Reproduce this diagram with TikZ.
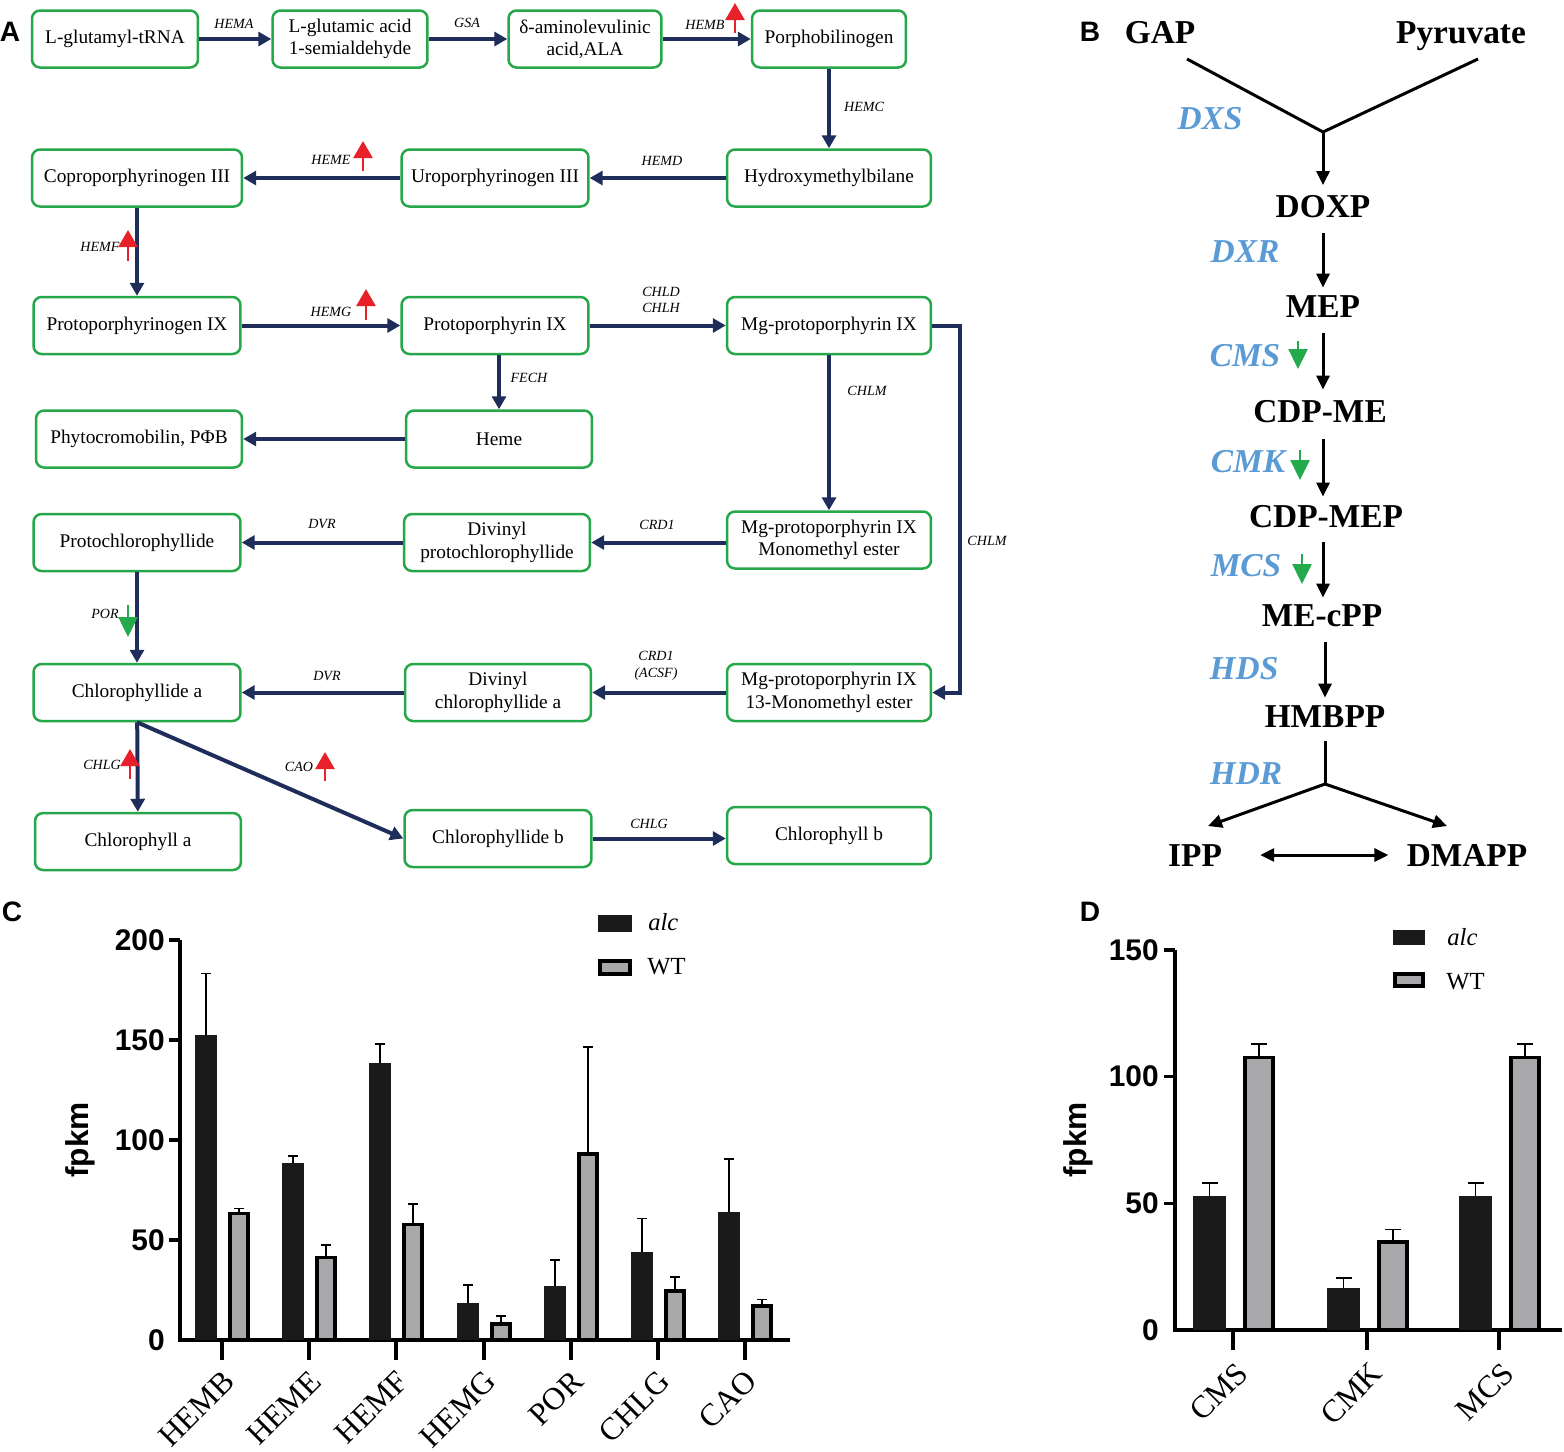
\documentclass[tikz,border=0pt]{standalone}
\usepackage{fontspec}
\setmainfont{Liberation Serif}
\newfontfamily\arialfont{Liberation Sans}
\usetikzlibrary{arrows.meta}

\definecolor{boxgreen}{RGB}{38,168,74}
\definecolor{pathnavy}{RGB}{30,45,90}
\definecolor{upred}{RGB}{232,32,42}
\definecolor{downgreen}{RGB}{34,170,76}
\definecolor{enzblue}{RGB}{91,155,213}
\definecolor{wtgray}{RGB}{168,168,170}
\definecolor{alcblack}{RGB}{26,26,26}

\tikzset{
  box/.style={draw=boxgreen, line width=0.05cm, rounded corners=0.16cm, minimum height=1.14cm,
    align=center, inner sep=1pt, font=\fontsize{11}{12.8}\selectfont},
  enz/.style={font=\fontsize{8}{9.5}\selectfont\itshape, inner sep=0pt, align=center},
  flow/.style={draw=pathnavy, line width=0.08cm, -{Triangle[length=0.26cm,width=0.28cm]}},
  upreg/.style={draw=upred, line width=0.05cm, -{Triangle[length=0.34cm,width=0.38cm]}},
  downreg/.style={draw=downgreen, line width=0.05cm, -{Triangle[length=0.4cm,width=0.38cm]}},
  panel/.style={font=\fontsize{16}{19}\selectfont\arialfont\bfseries, inner sep=0pt},
  metab/.style={font=\fontsize{19}{22}\selectfont\bfseries, inner sep=0pt, text height=12.6pt, text depth=0pt},
  benz/.style={font=\fontsize{19}{22}\selectfont\bfseries\itshape, text=enzblue, inner sep=0pt,
    text height=12.6pt, text depth=0pt},
  bline/.style={line width=0.06cm},
  barrow/.style={line width=0.06cm, -{Triangle[length=0.28cm,width=0.26cm]}},
  axisline/.style={line width=0.07cm},
  alcbar/.style={fill=alcblack},
  wtbar/.style={draw=black, line width=0.07cm, fill=wtgray},
  errbar/.style={line width=0.035cm},
  ticklab/.style={font=\fontsize{17}{20}\selectfont\arialfont\bfseries, anchor=east, inner sep=0pt},
  catlab/.style={font=\fontsize{18}{21}\selectfont, rotate=45, anchor=east, inner sep=0pt},
  leglab/.style={font=\fontsize{14}{17}\selectfont, anchor=west, inner sep=0pt},
  ylab/.style={font=\fontsize{18}{21}\selectfont\arialfont\bfseries, rotate=90, inner sep=0pt}
}

\begin{document}
\begin{tikzpicture}[x=0.02cm, y=-0.02cm]
\useasboundingbox (0,0) rectangle (1564,1451);

% panel A
\node[panel] (pA) at (10,32) {A};
\node[box, minimum width=3.32cm] (trna) at (115,39) {L-glutamyl-tRNA};
\node[box, minimum width=3.10cm] (gsa) at (350,39) {L-glutamic acid\\1-semialdehyde};
\node[box, minimum width=3.06cm] (ala) at (585,39) {δ-aminolevulinic\\acid,ALA};
\node[box, minimum width=3.08cm] (pbg) at (829,39) {Porphobilinogen};
\node[box, minimum width=4.20cm] (copro) at (137,178) {Coproporphyrinogen III};
\node[box, minimum width=3.74cm] (uro) at (495,178) {Uroporphyrinogen III};
\node[box, minimum width=4.08cm] (hmb) at (829,178) {Hydroxymethylbilane};
\node[box, minimum width=4.14cm] (protogen) at (137,325.5) {Protoporphyrinogen IX};
\node[box, minimum width=3.74cm] (protoix) at (495,325.5) {Protoporphyrin IX};
\node[box, minimum width=4.08cm] (mgp) at (829,325.5) {Mg-protoporphyrin IX};
\node[box, minimum width=4.12cm] (pfb) at (139,439) {Phytocromobilin, PΦB};
\node[box, minimum width=3.72cm] (heme) at (499,439) {Heme};
\node[box, minimum width=4.14cm] (pchlide) at (137,542.5) {Protochlorophyllide};
\node[box, minimum width=3.72cm] (dvpchlide) at (497,542.5) {Divinyl\\protochlorophyllide};
\node[box, minimum width=4.08cm] (mgme) at (829,540) {Mg-protoporphyrin IX\\Monomethyl ester};
\node[box, minimum width=4.14cm] (chlidea) at (137,692.5) {Chlorophyllide a};
\node[box, minimum width=3.72cm] (dvchlidea) at (498,692.5) {Divinyl\\chlorophyllide a};
\node[box, minimum width=4.08cm] (mgme13) at (829,692.5) {Mg-protoporphyrin IX\\13-Monomethyl ester};
\node[box, minimum width=4.12cm] (chla) at (138,841.5) {Chlorophyll a};
\node[box, minimum width=3.74cm] (chlideb) at (498,838.5) {Chlorophyllide b};
\node[box, minimum width=4.08cm] (chlb) at (829,835.5) {Chlorophyll b};

\node[enz] (lhema) at (234,24) {HEMA};
\node[enz] (lgsa) at (467,23) {GSA};
\node[enz] (lhemb) at (705,25) {HEMB};
\node[enz] (lhemc) at (864,107) {HEMC};
\node[enz] (lhemd) at (662,161) {HEMD};
\node[enz] (lheme) at (331,160) {HEME};
\node[enz] (lhemf) at (100,247) {HEMF};
\node[enz] (lhemg) at (331,312) {HEMG};
\node[enz] (lchld) at (661,300) {CHLD\\CHLH};
\node[enz] (lfech) at (529,378) {FECH};
\node[enz] (lchlm) at (867,391) {CHLM};
\node[enz] (lchlmb) at (987,541) {CHLM};
\node[enz] (ldvr) at (322,524) {DVR};
\node[enz] (lcrd) at (657,525) {CRD1};
\node[enz] (lpor) at (105,614) {POR};
\node[enz] (lacsf) at (656,666) {CRD1\\(ACSF)};
\node[enz] (ldvrb) at (327,676) {DVR};
\node[enz] (lchlg) at (102,765) {CHLG};
\node[enz] (lcao) at (299,767) {CAO};
\node[enz] (lchlgb) at (649,824) {CHLG};

\draw[flow] (trna) -- (gsa);
\draw[flow] (gsa) -- (ala);
\draw[flow] (ala) -- (pbg);
\draw[flow] (pbg) -- (hmb);
\draw[flow] (hmb) -- (uro);
\draw[flow] (uro) -- (copro);
\draw[flow] (copro) -- (protogen);
\draw[flow] (protogen) -- (protoix);
\draw[flow] (protoix) -- (mgp);
\draw[flow] (protoix.south -| heme.north) -- (heme.north);
\draw[flow] (heme) -- (pfb);
\draw[flow] (mgp) -- (mgme);
\draw[flow] (mgp.east) -- ++(28,0) |- (mgme13.east);
\draw[flow] (mgme.west |- dvpchlide) -- (dvpchlide);
\draw[flow] (dvpchlide) -- (pchlide);
\draw[flow] (pchlide) -- (chlidea);
\draw[flow] (mgme13) -- (dvchlidea);
\draw[flow] (dvchlidea) -- (chlidea);
\draw[flow] (chlidea) -- (chla);
\draw[flow] (chlidea.south) -- (chlideb.west);
\draw[flow] (chlideb.east) -- (chlideb.east -| chlb.west);

% up / down regulated
\draw[upreg] (735,33) -- (735,3);
\draw[upreg] (363,171) -- (363,141);
\draw[upreg] (128,261) -- (128,230);
\draw[upreg] (366,320) -- (366,289);
\draw[upreg] (130,779) -- (130,749);
\draw[upreg] (325,781) -- (325,752);
\draw[downreg] (128,605) -- (128,637);

% panel B
\node[panel] (pB) at (1090,32) {B};
\node[metab] (gap) at (1160,32) {GAP};
\node[metab] (pyr) at (1461,32) {Pyruvate};
\node[metab] (doxp) at (1323,206.5) {DOXP};
\node[metab] (mep) at (1323,306) {MEP};
\node[metab] (cdpme) at (1320,411) {CDP-ME};
\node[metab] (cdpmep) at (1326,516) {CDP-MEP};
\node[metab] (mecpp) at (1322,615) {ME-cPP};
\node[metab] (hmbpp) at (1325,716) {HMBPP};
\node[metab] (ipp) at (1195,855) {IPP};
\node[metab] (dmapp) at (1467,855) {DMAPP};

\node[benz] (dxs) at (1210,118) {DXS};
\node[benz] (dxr) at (1245,251) {DXR};
\node[benz] (cms) at (1245,355) {CMS};
\node[benz] (cmk) at (1248,461) {CMK};
\node[benz] (mcs) at (1246,565) {MCS};
\node[benz] (hds) at (1244,668) {HDS};
\node[benz] (hdr) at (1246,773) {HDR};

\coordinate (gapend) at (1187,59);
\coordinate (pyrend) at (1478,59);
\coordinate (dxsjoin) at (1323,132);
\coordinate (hdrjoin) at (1325,784);
\coordinate (ipptip) at (1208,826);
\coordinate (dmapptip) at (1447,826);

\draw[bline] (gapend) -- (dxsjoin) -- (pyrend);
\draw[barrow, shorten >=0.2cm] (dxsjoin) -- (doxp.north);
\draw[barrow, shorten <=0.3cm, shorten >=0.14cm] (doxp.south) -- (doxp.south |- mep.north);
\draw[barrow, shorten <=0.32cm, shorten >=0.2cm] (mep.south) -- (mep.south |- cdpme.north);
\draw[barrow, shorten <=0.34cm, shorten >=0.16cm] (mep.south |- cdpme.south) -- (mep.south |- cdpmep.north);
\draw[barrow, shorten <=0.3cm, shorten >=0.12cm] (mep.south |- cdpmep.south) -- (mep.south |- mecpp.north);
\draw[barrow, shorten <=0.32cm, shorten >=0.14cm] (hmbpp.north |- mecpp.south) -- (hmbpp.north);
\draw[bline, shorten <=0.28cm] (hmbpp.south) -- (hdrjoin);
\draw[barrow] (hdrjoin) -- (ipptip);
\draw[barrow] (hdrjoin) -- (dmapptip);
\draw[barrow, {Triangle[length=0.28cm,width=0.26cm]}-{Triangle[length=0.28cm,width=0.26cm]},
  shorten <=0.76cm, shorten >=0.36cm] (ipp.east) -- (dmapp.west);

\draw[downreg] (1298,341) -- (1298,369);
\draw[downreg] (1300,450) -- (1300,480);
\draw[downreg] (1302,554) -- (1302,584);

% panel C
\node[panel] (pC) at (12,912) {C};
\node[ylab] (cy) at (80,1140) {fpkm};
\fill[alcbar] (598,915) rectangle (632,932);
\draw[wtbar] (600,961) rectangle (630,974);
\node[leglab] (calc) at (648,922) {\itshape alc};
\node[leglab] (cwt) at (647,967) {WT};
\begin{scope}[shift={(0,1340)}, y=0.04cm]
  \draw[axisline] (180,200) -- (180,0) -- (790,0);
  \draw[axisline] (169,200) -- (180,200) (169,150) -- (180,150) (169,100) -- (180,100)
    (169,50) -- (180,50);
  \draw[axisline] (222,0) -- (222,-10) (309,0) -- (309,-10) (396,0) -- (396,-10)
    (484,0) -- (484,-10) (571,0) -- (571,-10) (658,0) -- (658,-10) (745,0) -- (745,-10);
  \node[ticklab] (c200) at (165,200) {200};
  \node[ticklab] (c150) at (165,150) {150};
  \node[ticklab] (c100) at (165,100) {100};
  \node[ticklab] (c50) at (165,50) {50};
  \node[ticklab] (c0) at (165,0) {0};
  % alc
  \fill[alcbar] (195,0) rectangle (217,152.5);
  \fill[alcbar] (282,0) rectangle (304,88.4);
  \fill[alcbar] (369,0) rectangle (391,138.7);
  \fill[alcbar] (457,0) rectangle (479,18.5);
  \fill[alcbar] (544,0) rectangle (566,27.1);
  \fill[alcbar] (631,0) rectangle (653,44);
  \fill[alcbar] (718,0) rectangle (740,64);
  % WT
  \draw[wtbar] (230,0) rectangle (248,63.2);
  \draw[wtbar] (317,0) rectangle (335,41.4);
  \draw[wtbar] (404,0) rectangle (422,57.9);
  \draw[wtbar] (492,0) rectangle (510,8);
  \draw[wtbar] (579,0) rectangle (597,93);
  \draw[wtbar] (666,0) rectangle (684,24.5);
  \draw[wtbar] (753,0) rectangle (771,17);
  % error bars
  \draw[errbar] (206,152.5) -- (206,183.3) (201,183.3) -- (211,183.3);
  \draw[errbar] (293,88.4) -- (293,92) (288,92) -- (298,92);
  \draw[errbar] (380,138.7) -- (380,148) (375,148) -- (385,148);
  \draw[errbar] (468,18.5) -- (468,27.4) (463,27.4) -- (473,27.4);
  \draw[errbar] (555,27.1) -- (555,40) (550,40) -- (560,40);
  \draw[errbar] (642,44) -- (642,60.8) (637,60.8) -- (647,60.8);
  \draw[errbar] (729,64) -- (729,90.6) (724,90.6) -- (734,90.6);
  \draw[errbar] (239,64) -- (239,65.8) (234,65.8) -- (244,65.8);
  \draw[errbar] (326,42.2) -- (326,47.5) (321,47.5) -- (331,47.5);
  \draw[errbar] (413,58.7) -- (413,68) (408,68) -- (418,68);
  \draw[errbar] (501,8.8) -- (501,12) (496,12) -- (506,12);
  \draw[errbar] (588,93.8) -- (588,146.7) (583,146.7) -- (593,146.7);
  \draw[errbar] (675,25.3) -- (675,31.7) (670,31.7) -- (680,31.7);
  \draw[errbar] (762,17.8) -- (762,20.3) (757,20.3) -- (767,20.3);
  \node[catlab] (chemb) at (229,-18) {HEMB};
  \node[catlab] (cheme) at (316,-18) {HEME};
  \node[catlab] (chemf) at (403,-18) {HEMF};
  \node[catlab] (chemg) at (491,-18) {HEMG};
  \node[catlab] (cpor) at (578,-18) {POR};
  \node[catlab] (cchlg) at (665,-18) {CHLG};
  \node[catlab] (ccao) at (752,-18) {CAO};
\end{scope}

% panel D
\node[panel] (pD) at (1090,912) {D};
\node[ylab] (dy) at (1078,1140) {fpkm};
\fill[alcbar] (1393,930) rectangle (1425,945);
\draw[wtbar] (1395,974) rectangle (1423,986);
\node[leglab] (dalc) at (1447,937) {\itshape alc};
\node[leglab] (dwt) at (1446,982) {WT};
\begin{scope}[shift={(0,1330)}, y=0.050667cm]
  \draw[axisline] (1175,150) -- (1175,0) -- (1562,0);
  \draw[axisline] (1164,150) -- (1175,150) (1164,100) -- (1175,100) (1164,50) -- (1175,50);
  \draw[axisline] (1233,0) -- (1233,-8) (1367,0) -- (1367,-8) (1499,0) -- (1499,-8);
  \node[ticklab] (d150) at (1159,150) {150};
  \node[ticklab] (d100) at (1159,100) {100};
  \node[ticklab] (d50) at (1159,50) {50};
  \node[ticklab] (d0) at (1159,0) {0};
  \fill[alcbar] (1193,0) rectangle (1226,53);
  \fill[alcbar] (1327,0) rectangle (1360,16.5);
  \fill[alcbar] (1459,0) rectangle (1492,53);
  \draw[wtbar] (1245,0) rectangle (1273,107.5);
  \draw[wtbar] (1379,0) rectangle (1407,34.8);
  \draw[wtbar] (1511,0) rectangle (1539,107.5);
  \draw[errbar] (1209.5,53) -- (1209.5,57.9) (1201.5,57.9) -- (1217.5,57.9);
  \draw[errbar] (1343.5,16.5) -- (1343.5,20.6) (1335.5,20.6) -- (1351.5,20.6);
  \draw[errbar] (1475.5,53) -- (1475.5,57.9) (1467.5,57.9) -- (1483.5,57.9);
  \draw[errbar] (1259,108.2) -- (1259,113) (1251,113) -- (1267,113);
  \draw[errbar] (1393,35.5) -- (1393,39.7) (1385,39.7) -- (1401,39.7);
  \draw[errbar] (1525,108.2) -- (1525,113) (1517,113) -- (1533,113);
  \node[catlab] (dcms) at (1243,-15) {CMS};
  \node[catlab] (dcmk) at (1377,-15) {CMK};
  \node[catlab] (dmcs) at (1509,-15) {MCS};
\end{scope}
\end{tikzpicture}
\end{document}
